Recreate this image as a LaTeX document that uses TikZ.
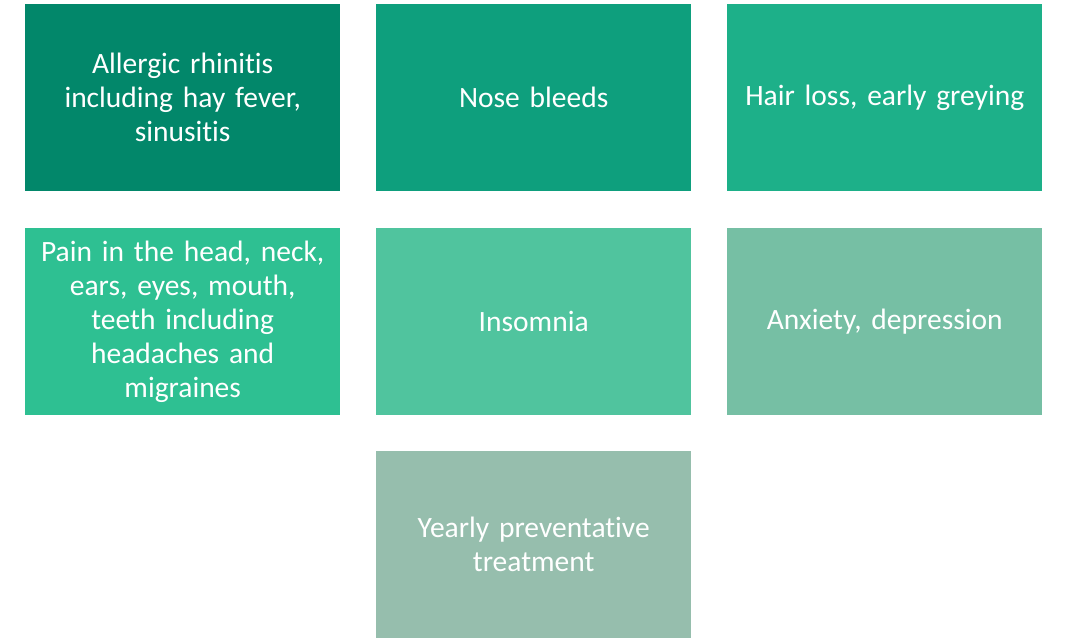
\documentclass[tikz,border=0pt]{standalone}
\usepackage{fontspec}
\setmainfont[Ligatures={NoCommon}]{Carlito}
\definecolor{c1}{HTML}{02876A}
\definecolor{c2}{HTML}{0E9F7D}
\definecolor{c3}{HTML}{1DB089}
\definecolor{c4}{HTML}{2EC092}
\definecolor{c5}{HTML}{50C49E}
\definecolor{c6}{HTML}{76BFA4}
\definecolor{c7}{HTML}{96BEAD}
\tikzset{
  tile/.style={draw=none, text=white, minimum width=315pt, minimum height=187pt,
    inner sep=0pt, text width=312pt, align=center,
    font=\fontsize{29.5}{34}\selectfont, anchor=north west}
}
\begin{document}
\begin{tikzpicture}[x=1pt,y=-1pt]
\useasboundingbox (0,0) rectangle (1067,642);
\node[tile, fill=c1] (a) at (25,4) {Allergic rhinitis\\including hay fever,\\sinusitis};
\node[tile, fill=c2] (b) at (376,4) {Nose bleeds};
\node[tile, fill=c3] (c) at (727,4) {Hair loss, early greying};
\node[tile, fill=c4] (d) at (25,228) {Pain in the head, neck,\\ears, eyes, mouth,\\teeth including\\headaches and\\migraines};
\node[tile, fill=c5] (e) at (376,228) {Insomnia};
\node[tile, fill=c6] (f) at (727,228) {Anxiety, depression};
\node[tile, fill=c7] (g) at (376,451) {Yearly preventative\\treatment};
\end{tikzpicture}
\end{document}
